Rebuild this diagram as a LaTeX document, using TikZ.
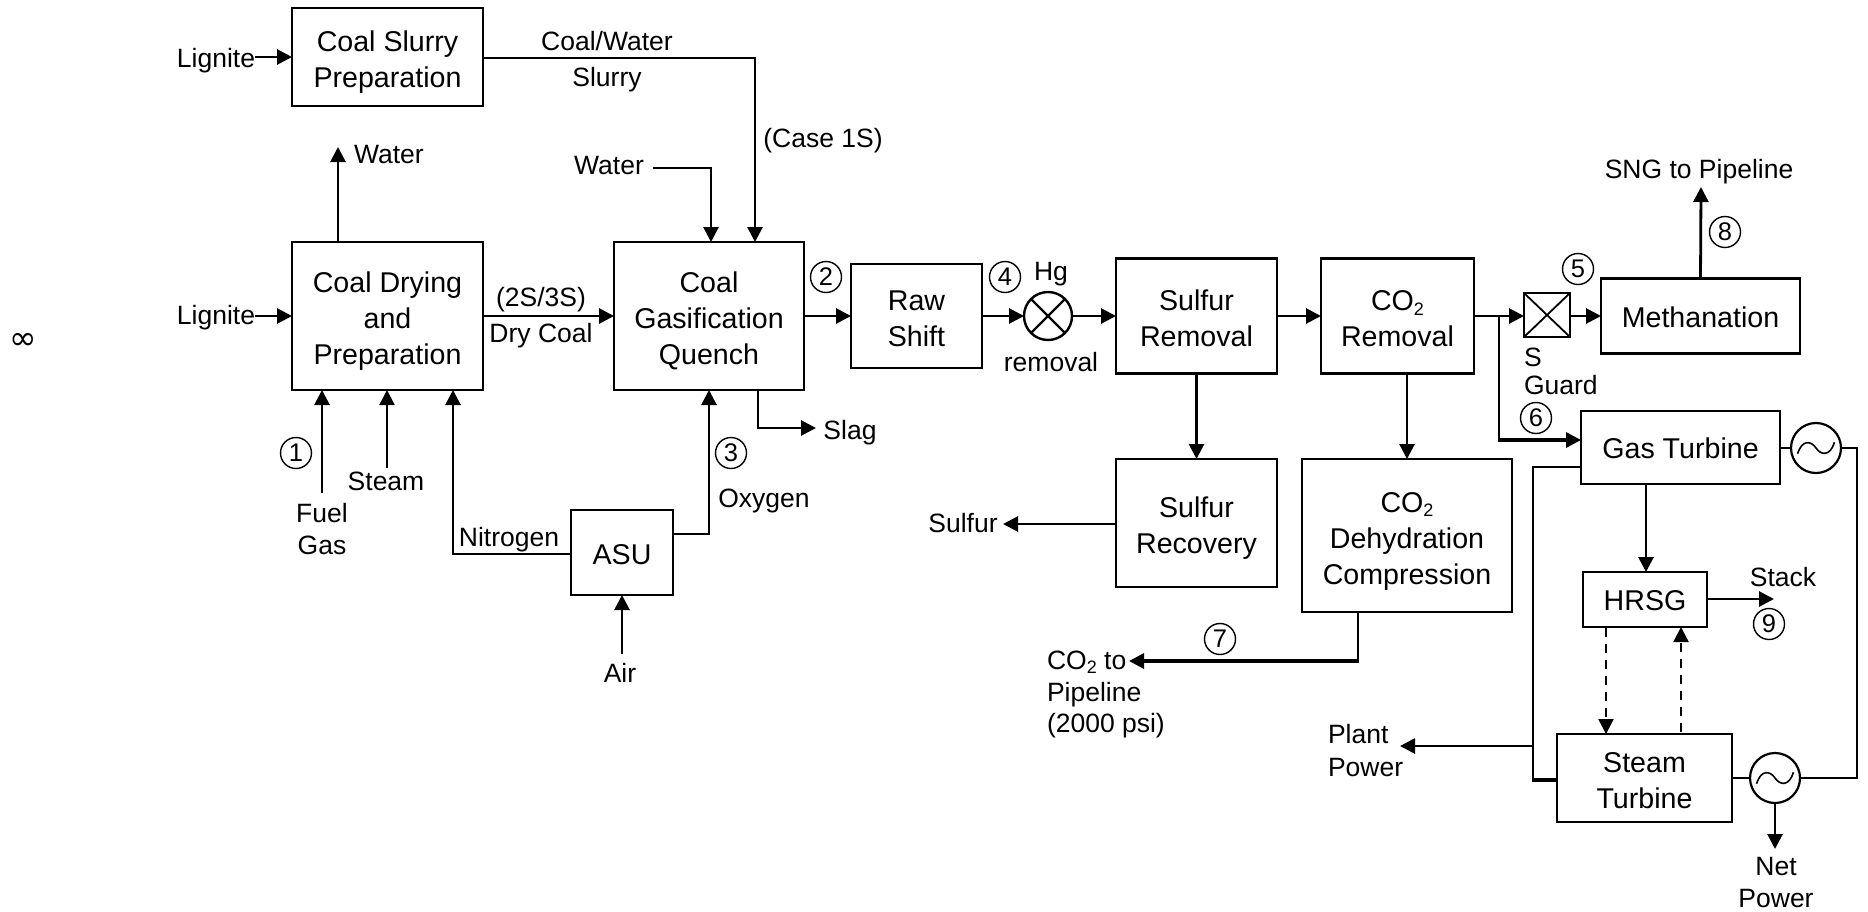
\documentclass[tikz,border=0pt]{standalone}
\usepackage{fontspec}
\setmainfont{Liberation Sans}
\newfontfamily\symfont{DejaVu Sans}
\usetikzlibrary{arrows.meta,calc}
\newcommand{\subtwo}{\raisebox{-0.3ex}{\fontsize{18}{18}\selectfont 2}}
\newcommand{\dn}[1]{\rule{0pt}{#1pt}}
\newcommand{\gensym}[1]{\begin{scope}[shift={(#1.center)},scale=1.15]\draw[line width=1.6pt] (-16,5) .. controls (-12,-8) and (-4,-6) .. (0,0) .. controls (4,6) and (12,8) .. (16,-5);\end{scope}}
\tikzset{
  x=1pt,y=-1pt,
  boxnode/.style={draw,line width=2.6pt,inner sep=0pt,outer sep=0pt,align=center,font=\fontsize{28.6}{36}\selectfont},
  lbl/.style={inner sep=0pt,outer sep=0pt,font=\fontsize{26.5}{32}\selectfont,text height=18pt,text depth=0pt},
  num/.style={draw,circle,line width=1.4pt,inner sep=0pt,outer sep=0pt,minimum size=31pt,font=\fontsize{25.5}{30}\selectfont},
  gen/.style={draw,circle,line width=2.2pt,inner sep=0pt,outer sep=0pt,minimum size=50pt},
  cross/.style={draw,line width=2.4pt,inner sep=0pt,outer sep=0pt,path picture={\draw[line width=1.8pt] (path picture bounding box.south west)--(path picture bounding box.north east) (path picture bounding box.south east)--(path picture bounding box.north west);}},
  flow/.style={line width=2.8pt,-{Triangle[length=15pt,width=15pt]}},
  flowplain/.style={line width=2.8pt},
  heavy/.style={line width=3.4pt,-{Triangle[length=15pt,width=15pt]}},
  dashflow/.style={line width=2.4pt,dash pattern=on 9pt off 7pt,-{Triangle[length=15pt,width=15pt]}}
}
\begin{document}
\begin{tikzpicture}
\useasboundingbox (0,0) rectangle (1868,911);
% boxes
\node[boxnode,minimum width=191pt,minimum height=98pt] (slurry) at (387.5,57) {\dn{31}Coal Slurry\\Preparation};
\node[boxnode,minimum width=191pt,minimum height=148pt] (dry) at (387.5,316) {\dn{31}Coal Drying\\and\\Preparation};
\node[boxnode,minimum width=190pt,minimum height=148pt] (gasif) at (709,316) {\dn{31}Coal\\Gasification\\Quench};
\node[boxnode,minimum width=131pt,minimum height=104pt] (raw) at (916.5,316) {\dn{26}Raw\\Shift};
\node[boxnode,minimum width=161pt,minimum height=115pt] (srem) at (1196.5,316) {\dn{26}Sulfur\\Removal};
\node[boxnode,minimum width=153pt,minimum height=115pt] (crem) at (1397.5,316) {\dn{26}CO\subtwo\\Removal};
\node[boxnode,minimum width=199pt,minimum height=75pt] (meth) at (1700.5,316) {\dn{23}Methanation};
\node[boxnode,minimum width=161pt,minimum height=128pt] (srec) at (1196.5,523) {\dn{31}Sulfur\\Recovery};
\node[boxnode,minimum width=210pt,minimum height=153pt] (dehy) at (1407,535.5) {\dn{31}CO\subtwo\\Dehydration\\Compression};
\node[boxnode,minimum width=199pt,minimum height=73pt] (gt) at (1680.5,447.5) {\dn{23}Gas Turbine};
\node[boxnode,minimum width=124pt,minimum height=55pt] (hrsg) at (1645,599.5) {\dn{23}HRSG};
\node[boxnode,minimum width=175pt,minimum height=88pt] (st) at (1644.5,778) {\dn{26}Steam\\Turbine};
\node[boxnode,minimum width=102pt,minimum height=85pt] (asu) at (622,552.5) {\dn{25}ASU};
% equipment symbols
\node[draw,circle,line width=2.4pt,inner sep=0pt,outer sep=0pt,minimum size=48pt,path picture={\draw[line width=2.2pt] (path picture bounding box.south west)--(path picture bounding box.north east) (path picture bounding box.south east)--(path picture bounding box.north west);}] (hg) at (1048,316) {};
\node[cross,minimum width=46pt,minimum height=44pt] (sg) at (1547,315) {};
\node[gen] (g1) at (1816,448) {};
\node[gen] (g2) at (1775,778) {};
\gensym{g1}
\gensym{g2}
% text labels
\node[lbl] (lig1) at (216,58) {Lignite};
\node[lbl] (lig2) at (216,315) {Lignite};
\node[lbl] (cw) at (607,41) {Coal/Water};
\node[lbl] at (607,77) {Slurry};
\node[lbl] at (823,138) {(Case 1S)};
\node[lbl,anchor=west] at (354,154) {Water};
\node[lbl] (wat) at (609,165) {Water};
\node[lbl] at (1699,169) {SNG to Pipeline};
\node[lbl] at (541,297) {(2S/3S)};
\node[lbl] at (541,333) {Dry Coal};
\node[lbl] (slag) at (850,430) {Slag};
\node[lbl] (n2) at (509,537) {Nitrogen};
\node[lbl] at (764,498) {Oxygen};
\node[lbl] (air) at (620,673) {Air};
\node[lbl] (fuel) at (322,513) {Fuel};
\node[lbl] at (322,545) {Gas};
\node[lbl] (steam) at (386,481) {Steam};
\node[lbl] at (1051,271) {Hg};
\node[lbl] at (1051,362) {removal};
\node[lbl] (sulf) at (963,523) {Sulfur};
\node[lbl,anchor=west] at (1524,357) {S};
\node[lbl,anchor=west] at (1524,385) {Guard};
\node[lbl] at (1783,577) {Stack};
\node[lbl,anchor=west] at (1328,734) {Plant};
\node[lbl,anchor=west] (pp) at (1328,767) {Power};
\node[lbl] at (1776,866) {Net};
\node[lbl] at (1776,898) {Power};
\node[lbl,anchor=west] (co2p) at (1047,660) {CO\subtwo{} to};
\node[lbl,anchor=west] at (1047,692) {Pipeline};
\node[lbl,anchor=west] at (1047,723) {(2000 psi)};
\node[inner sep=0pt,font=\fontsize{33}{36}\selectfont] at (23,341) {{\symfont ∞}};
% circled numbers
\node[num] at (296,453) {1};
\node[num] at (826,277) {2};
\node[num] at (731,453) {3};
\node[num] at (1005,277) {4};
\node[num] at (1578,269) {5};
\node[num] at (1536,418) {6};
\node[num] at (1220,639) {7};
\node[num] at (1725,232) {8};
\node[num] at (1769,624) {9};
% free ends
\coordinate (watup) at (338,147);
\coordinate (sngtip) at (1701,187);
\coordinate (stacktip) at (1774,599);
\coordinate (nettip) at (1775,849);
\coordinate (planttip) at (1400,746);
\coordinate (co2tip) at (1129,661);
\coordinate (sulftip) at (1003,524);
\coordinate (slagtip) at (816,428);
\coordinate (co2corner) at (1358,661);
\coordinate (gtcorner) at (1499,440);
% connectors
\draw[flow] (255,57) -- (slurry.west |- 0,57);
\draw[flow] (255,316) -- (dry.west |- 0,316);
\draw[flow] (slurry.east |- 0,58) -| (gasif.north -| 755,0);
\draw[flow] (653,168) -| (gasif.north -| 711,0);
\draw[flow] (dry.north -| 338,0) -- (watup);
\draw[flow] (dry.east) -- (gasif.west);
\draw[flow] (322,493) -- (dry.south -| 322,0);
\draw[flow,line width=2.4pt] (387,468) -- (dry.south -| 387,0);
\draw[flow] (asu.west |- 0,554) -| (dry.south -| 453,0);
\draw[flow] (asu.east |- 0,534) -| (gasif.south);
\draw[flow] (622,654) -- (asu.south);
\draw[flow] (gasif.south -| 758,0) |- (slagtip);
\draw[flow] (gasif.east) -- (raw.west);
\draw[flow] (raw.east) -- (hg.west);
\draw[flow] (hg.east) -- (srem.west);
\draw[flow] (srem.east) -- (crem.west);
\draw[flow] (crem.east) -- (sg.west |- crem.east);
\draw[flow] (sg.east |- meth.west) -- (meth.west);
\draw[flow] (meth.north) -- (sngtip);
\draw[flow] (srem.south) -- (srec.north);
\draw[flow] (crem.south -| 1407,0) -- (dehy.north -| 1407,0);
\draw[flow] (srec.west |- sulftip) -- (sulftip);
\draw[flowplain] (dehy.south -| co2corner) -- (co2corner);
\draw[heavy] ($(co2corner)+(1.4,0)$) -- (co2tip);
\draw[flowplain] (1499,316) -- (gtcorner);
\draw[heavy] ($(gtcorner)+(-1.4,0)$) -- (gt.west |- gtcorner);
\draw[flow] (gt.south -| 1646,0) -- (hrsg.north -| 1646,0);
\draw[flow] (hrsg.east |- stacktip) -- (stacktip);
\draw[dashflow] (1606,628) -- (st.north -| 1606,0);
\draw[dashflow] (1681,732) -- (hrsg.south -| 1681,0);
\draw[flowplain] (gt.east |- g1.west) -- (g1.west);
\draw[flowplain] (g1.east) -| (1857,778) -- (g2.east);
\draw[flowplain] (st.east |- g2.west) -- (g2.west);
\draw[flow] (g2.south) -- (nettip);
\draw[flowplain] (gt.west |- 0,467) -| (1533,780);
\draw[line width=3.4pt] (1531.6,780) -- (st.west |- 0,780);
\draw[flow] (1533,746) -- (planttip);
\end{tikzpicture}
\end{document}
